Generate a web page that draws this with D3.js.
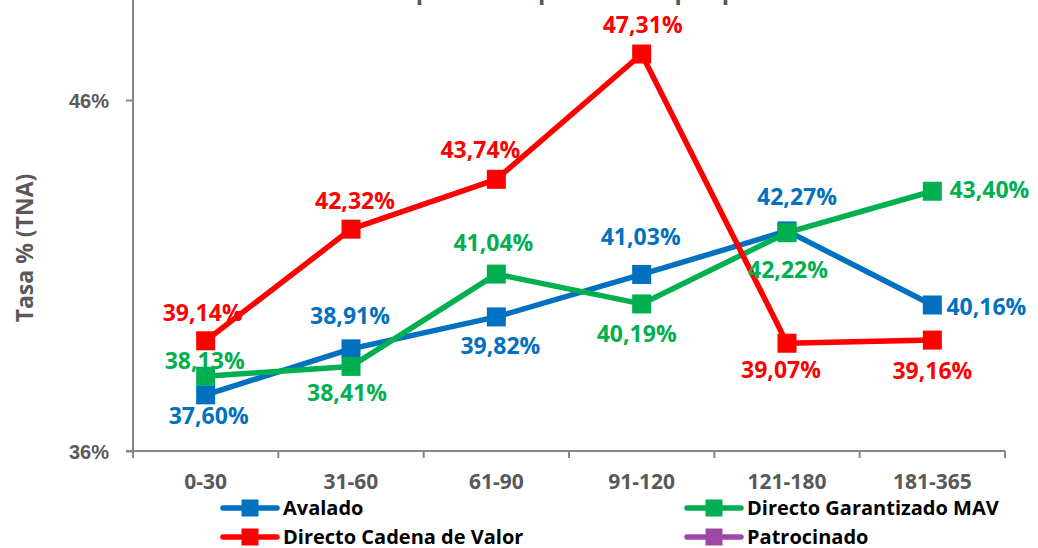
<!DOCTYPE html>
<html>
<head>
<meta charset="utf-8">
<script src="https://cdn.jsdelivr.net/npm/d3@7/dist/d3.min.js"></script>
<style>
  html, body { margin: 0; padding: 0; background: #ffffff; }
  svg { display: block; font-family: "Open Sans", "Liberation Sans", sans-serif; }
</style>
</head>
<body>
<svg id="chart" width="1038" height="548"></svg>
<script>
// ---- data ----
const categories = ["0-30", "31-60", "61-90", "91-120", "121-180", "181-365"];
const seriesNames = ["Avalado", "Directo Garantizado MAV", "Directo Cadena de Valor", "Patrocinado"];
const avalado = [37.60, 38.91, 39.82, 41.03, 42.27, 40.16];
const directoGarantizadoMAV = [38.13, 38.41, 41.04, 40.19, 42.22, 43.40];
const directoCadenaValor = [39.14, 42.32, 43.74, 47.31, 39.07, 39.16];
const patrocinado = [null, null, null, null, null, null];
const yTickValues = [36, 46];
const yTickLabels = ["36%", "46%"];
const chartTitle = "Tasa promedio ponderada por plazo";
const yAxisTitle = "Tasa % (TNA)";

// ---- styles / layout (not data) ----
const colors = ["#0070C0", "#00B050", "#FF0000", "#9E48A6"];
// label offsets (dx, dy) relative to each marker, per series
const labelOffsets = [
  [[3, 21], [-1, -33], [4, 29], [-1, -37], [10, -34], [54, 2]],
  [[-1, -15], [-4, 27], [-3, -31], [-5, 30], [1, 37], [57, -1]],
  [[-3, -28], [4, -28], [-16, -29], [1, -29], [-6, 27], [0, 31]],
  [[0, 0], [0, 0], [0, 0], [0, 0], [0, 0], [0, 0]]
];
const seriesValues = [avalado, directoGarantizadoMAV, directoCadenaValor, patrocinado];

const svg = d3.select("#chart");
const plotLeft = 133, plotRight = 1005, plotBottom = 451;
const pxPerUnit = 35.1;

const x = d3.scaleBand().domain(categories).range([plotLeft, plotRight]).padding(0);
const y = d3.scaleLinear().domain([36, 56]).range([plotBottom, plotBottom - 20 * pxPerUnit]);

const axisColor = "#868686";
const textGrey = "#595959";

// Title (mostly out of frame at top)
svg.append("text")
  .attr("x", 570).attr("y", -1)
  .attr("text-anchor", "middle")
  .attr("font-size", 24).attr("font-weight", "bold")
  .attr("fill", textGrey)
  .text(chartTitle);

// Y axis
const yAxis = d3.axisLeft(y).tickValues(yTickValues)
  .tickFormat((d, i) => yTickLabels[i]).tickSize(7).tickSizeOuter(0);
const gy = svg.append("g").attr("transform", `translate(${plotLeft},0)`).call(yAxis);
gy.select(".domain").remove();
gy.selectAll(".tick line").attr("stroke", axisColor).attr("stroke-width", 2);
gy.selectAll(".tick text").attr("fill", textGrey).attr("font-size", 20)
  .attr("font-weight", "bold").attr("x", -24).attr("dy", "0.35em");
svg.append("line").attr("x1", plotLeft).attr("x2", plotLeft)
  .attr("y1", 0).attr("y2", plotBottom)
  .attr("stroke", axisColor).attr("stroke-width", 2);

// X axis
svg.append("line").attr("x1", plotLeft - 7).attr("x2", plotRight)
  .attr("y1", plotBottom).attr("y2", plotBottom)
  .attr("stroke", axisColor).attr("stroke-width", 2);
const edges = categories.map(c => x(c)).concat([x(categories[categories.length - 1]) + x.bandwidth()]);
svg.selectAll(".xtick").data(edges).enter().append("line")
  .attr("x1", d => d).attr("x2", d => d)
  .attr("y1", plotBottom).attr("y2", plotBottom + 7)
  .attr("stroke", axisColor).attr("stroke-width", 2);
svg.selectAll(".xlabel").data(categories).enter().append("text")
  .attr("x", d => x(d) + x.bandwidth() / 2)
  .attr("y", 482).attr("dy", "0.35em")
  .attr("text-anchor", "middle")
  .attr("font-size", 21).attr("font-weight", "bold")
  .attr("fill", textGrey)
  .text(d => d);

// Y axis title
svg.append("text")
  .attr("transform", "translate(25,248) rotate(-90)")
  .attr("text-anchor", "middle").attr("dy", "0.35em")
  .attr("font-size", 23).attr("font-weight", "bold")
  .attr("fill", textGrey)
  .text(yAxisTitle);

// Series
const cx = c => x(c) + x.bandwidth() / 2;
const line = d3.line().defined(d => d.v != null).x(d => cx(d.c)).y(d => y(d.v));
const markerSize = 19;

seriesValues.forEach((vals, si) => {
  const pts = categories.map((c, i) => ({ c, v: vals[i], i }));
  const g = svg.append("g");
  g.append("path").datum(pts)
    .attr("d", line).attr("fill", "none")
    .attr("stroke", colors[si]).attr("stroke-width", 5.5)
    .attr("stroke-linejoin", "round");
  const valid = pts.filter(d => d.v != null);
  g.selectAll("rect").data(valid).enter().append("rect")
    .attr("x", d => cx(d.c) - markerSize / 2)
    .attr("y", d => y(d.v) - markerSize / 2)
    .attr("width", markerSize).attr("height", markerSize)
    .attr("fill", colors[si]);
});

// Data labels drawn on top
seriesValues.forEach((vals, si) => {
  const pts = categories.map((c, i) => ({ c, v: vals[i], i })).filter(d => d.v != null);
  svg.append("g").selectAll("text").data(pts).enter().append("text")
    .attr("x", d => cx(d.c) + labelOffsets[si][d.i][0])
    .attr("y", d => y(d.v) + labelOffsets[si][d.i][1])
    .attr("dy", "0.35em")
    .attr("text-anchor", "middle")
    .attr("font-size", 23).attr("font-weight", "bold")
    .attr("fill", colors[si])
    .text(d => d.v.toFixed(2).replace(".", ",") + "%");
});

// Legend
const legendItems = [
  { name: seriesNames[0], color: colors[0], lx: 223, ly: 508 },
  { name: seriesNames[1], color: colors[1], lx: 687, ly: 508 },
  { name: seriesNames[2], color: colors[2], lx: 223, ly: 537 },
  { name: seriesNames[3], color: colors[3], lx: 687, ly: 537 }
];
const lg = svg.append("g");
legendItems.forEach(it => {
  lg.append("line").attr("x1", it.lx).attr("x2", it.lx + 54)
    .attr("y1", it.ly).attr("y2", it.ly)
    .attr("stroke", it.color).attr("stroke-width", 5.5).attr("stroke-linecap", "round");
  lg.append("rect").attr("x", it.lx + 27 - 8.5).attr("y", it.ly - 8.5)
    .attr("width", 17).attr("height", 17).attr("fill", it.color);
  lg.append("text").attr("x", it.lx + 60).attr("y", it.ly).attr("dy", "0.35em")
    .attr("font-size", 20).attr("font-weight", "bold").attr("fill", "#000000")
    .text(it.name);
});
</script>
</body>
</html>
